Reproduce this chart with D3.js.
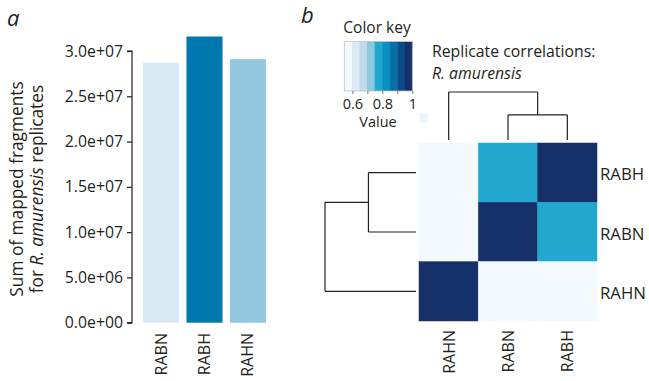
<!DOCTYPE html>
<html>
<head>
<meta charset="utf-8">
<script src="https://cdn.jsdelivr.net/npm/d3@7"></script>
<style>
  html, body { margin: 0; padding: 0; background: #fff; }
  svg { display: block; font-family: "Open Sans", "Noto Sans", sans-serif; }
  text { fill: #231f20; }
</style>
</head>
<body>
<svg id="fig" width="649" height="381"></svg>
<script>
// Panel a: mapped fragment totals per replicate
const barCategories = ["RABN", "RABH", "RAHN"];
const barValues = [2.87e7, 3.16e7, 2.91e7];
const barColors = ["#d9eaf5", "#0077ae", "#91c8dd"];
const barTicks = [0, 5e6, 1e7, 1.5e7, 2e7, 2.5e7, 3e7];

// Panel b: replicate correlation matrix
const heatCols = ["RAHN", "RABN", "RABH"];
const heatRows = ["RABH", "RABN", "RAHN"];
const corr = {
  RAHN: { RAHN: 1.00, RABN: 0.56, RABH: 0.56 },
  RABN: { RAHN: 0.56, RABN: 1.00, RABH: 0.77 },
  RABH: { RAHN: 0.56, RABN: 0.77, RABH: 1.00 }
};
const keyColors = ["#f4f9fd", "#dbeaf4", "#c1dbea", "#8fc7dd", "#22a8cf",
                   "#0990c2", "#0371a8", "#0b4b88", "#16306a"];
const keyDomain = [0.546, 1];
const keyTicks = [0.6, 0.7, 0.8, 0.9, 1];
const keyTickLabels = [0.6, 0.8, 1];
// average-linkage tree on distance 1 - r
const tree = {
  height: 0.44,
  children: [
    { name: "RAHN", height: 0 },
    { height: 0.23, children: [{ name: "RABN", height: 0 }, { name: "RABH", height: 0 }] }
  ]
};

const svg = d3.select("#fig");
const ink = "#231f20";
const face = "'Open Sans', 'Noto Sans', sans-serif";

// ---------- panel a ----------
const y = d3.scaleLinear().domain([0, 3e7]).range([322.7, 51]);
const x = d3.scaleBand().domain(barCategories).range([143, 266]).paddingInner(0.172).paddingOuter(0);

const sci = v => {
  const [m, e] = v.toExponential(1).split("e");
  const n = Math.abs(+e);
  return m + "e" + (+e < 0 ? "-" : "+") + String(n).padStart(2, "0");
};

const yAxis = svg.append("g")
  .attr("transform", "translate(132,0)")
  .call(d3.axisLeft(y).tickValues(barTicks).tickFormat(sci).tickSize(5).tickPadding(4));
yAxis.select(".domain").attr("stroke", ink).attr("stroke-width", 1.2)
  .attr("d", `M-5,${y(3e7)}H0V${y(0)}H-5`);
yAxis.selectAll(".tick line").attr("stroke", ink).attr("stroke-width", 1.2);
yAxis.selectAll(".tick text").attr("font-size", 15.8).attr("fill", ink)
  .attr("font-family", face);

svg.append("g").selectAll("rect").data(barCategories).join("rect")
  .attr("x", d => x(d))
  .attr("width", x.bandwidth())
  .attr("y", (d, i) => y(barValues[i]))
  .attr("height", (d, i) => y(0) - y(barValues[i]))
  .attr("fill", (d, i) => barColors[i]);

svg.append("g").selectAll("text").data(barCategories).join("text")
  .attr("transform", d => `translate(${x(d) + x.bandwidth() / 2 + 5.5},333) rotate(-90)`)
  .attr("text-anchor", "end")
  .attr("font-size", 16)
  .text(d => d);

const yTitle = svg.append("text")
  .attr("transform", "translate(0,189) rotate(-90)")
  .attr("text-anchor", "middle")
  .attr("font-size", 17.3);
yTitle.append("tspan").attr("x", 0).attr("y", 23).text("Sum of mapped fragments");
const l2 = yTitle.append("tspan").attr("x", 0).attr("y", 43);
l2.append("tspan").text("for ");
l2.append("tspan").attr("font-style", "italic").text("R. amurensis");
l2.append("tspan").text(" replicates");

svg.append("text").attr("x", 7).attr("y", 26).attr("font-size", 22)
  .attr("font-style", "italic").text("a");

// ---------- panel b ----------
svg.append("text").attr("x", 301).attr("y", 23).attr("font-size", 22)
  .attr("font-style", "italic").text("b");

// colour key
const keyX = d3.scaleLinear().domain(keyDomain).range([344.3, 412.3]);
const quant = d3.scaleQuantize().domain(keyDomain).range(keyColors);
const keyTop = 41.5, keyBot = 91;
const step = (keyDomain[1] - keyDomain[0]) / keyColors.length;
svg.append("g").selectAll("rect").data(keyColors).join("rect")
  .attr("x", (c, i) => keyX(keyDomain[0] + i * step))
  .attr("width", (c, i) => keyX(keyDomain[0] + (i + 1) * step) - keyX(keyDomain[0] + i * step) + 0.3)
  .attr("y", keyTop).attr("height", keyBot - keyTop)
  .attr("fill", c => c);
svg.append("rect").attr("x", keyX(keyDomain[0])).attr("y", keyTop)
  .attr("width", keyX(keyDomain[1]) - keyX(keyDomain[0])).attr("height", keyBot - keyTop)
  .attr("fill", "none").attr("stroke", "#c4c4c4").attr("stroke-width", 0.8);

const keyAxis = svg.append("g").attr("transform", `translate(0,${keyBot})`)
  .call(d3.axisBottom(keyX).tickValues(keyTicks).tickSize(3).tickPadding(5)
    .tickFormat(d => keyTickLabels.includes(d) ? d3.format("~g")(d) : ""));
keyAxis.select(".domain").remove();
keyAxis.selectAll(".tick line").attr("stroke", "#555").attr("stroke-width", 0.8);
keyAxis.selectAll(".tick text").attr("font-size", 14.5).attr("fill", ink)
  .attr("font-family", face);

svg.append("text").attr("x", 377).attr("y", 33).attr("text-anchor", "middle")
  .attr("font-size", 15.5).text("Color key");
svg.append("text").attr("x", 378).attr("y", 127).attr("text-anchor", "middle")
  .attr("font-size", 14.5).text("Value");
// density marker left by the key's histogram
svg.append("rect").attr("x", 419.5).attr("y", 113).attr("width", 8.5).attr("height", 10)
  .attr("fill", "#eef5fb");

const heading = svg.append("g").attr("font-size", 15.8);
heading.append("text").attr("x", 432).attr("y", 57).text("Replicate correlations:");
heading.append("text").attr("x", 432).attr("y", 79).attr("font-style", "italic").text("R. amurensis");

// heatmap
const hx = d3.scaleBand().domain(heatCols).range([419, 597]);
const hy = d3.scaleBand().domain(heatRows).range([143, 321]);
const cells = [];
heatRows.forEach(r => heatCols.forEach(c => cells.push({ r, c, v: corr[r][c] })));
svg.append("g").selectAll("rect").data(cells).join("rect")
  .attr("x", d => hx(d.c)).attr("y", d => hy(d.r))
  .attr("width", hx.bandwidth()).attr("height", hy.bandwidth())
  .attr("fill", d => quant(d.v))
  .attr("stroke", d => quant(d.v)).attr("stroke-width", 0.5);

svg.append("g").selectAll("text").data(heatRows).join("text")
  .attr("x", 600).attr("y", d => hy(d) + hy.bandwidth() / 2 + 7.5)
  .attr("font-size", 16.8).text(d => d);
svg.append("g").selectAll("text").data(heatCols).join("text")
  .attr("transform", d => `translate(${hx(d) + hx.bandwidth() / 2 + 6},330) rotate(-90)`)
  .attr("text-anchor", "end").attr("font-size", 16).text(d => d);

// dendrograms
const root = d3.hierarchy(tree);
const maxH = tree.height;
function elbows(leafPos, hScale, horizontal) {
  const pos = n => n.children ? d3.mean(n.children, pos) : leafPos(n.data.name);
  const segs = [];
  root.each(n => {
    if (!n.children) return;
    const h = hScale(n.data.height);
    const cps = n.children.map(pos);
    segs.push([[cps[0], h], [cps[cps.length - 1], h]]);
    n.children.forEach((ch, i) => segs.push([[cps[i], h], [cps[i], hScale(ch.data.height)]]));
  });
  return segs.map(s => horizontal ? s.map(([a, b]) => [b, a]) : s);
}
const colH = d3.scaleLinear().domain([0, maxH]).range([140, 92]);
const rowH = d3.scaleLinear().domain([0, maxH]).range([416, 325]);
const line = d3.line();
svg.append("g").selectAll("path")
  .data(elbows(n => hx(n) + hx.bandwidth() / 2, colH, false))
  .join("path").attr("d", line).attr("stroke", ink).attr("stroke-width", 1.2).attr("fill", "none");
svg.append("g").selectAll("path")
  .data(elbows(n => hy(n) + hy.bandwidth() / 2, rowH, true))
  .join("path").attr("d", line).attr("stroke", ink).attr("stroke-width", 1.2).attr("fill", "none");
</script>
</body>
</html>
